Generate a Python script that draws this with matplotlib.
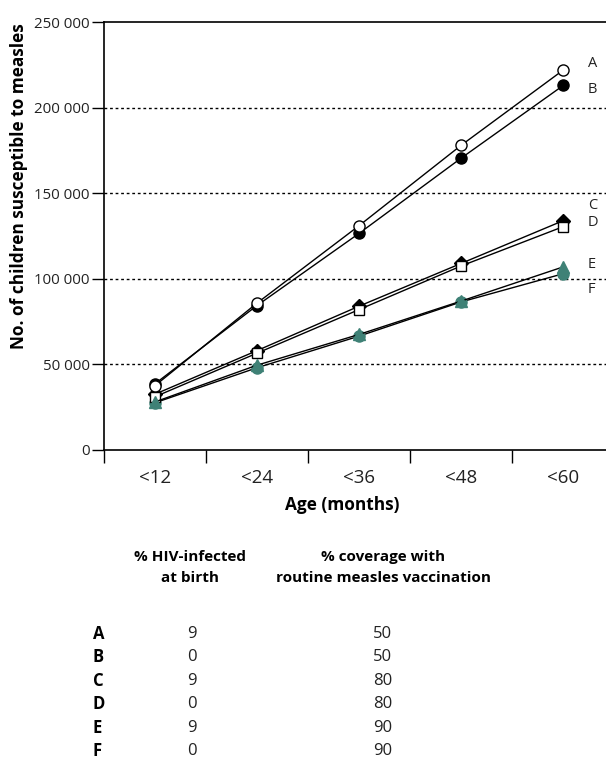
import matplotlib
matplotlib.use("Agg")
import matplotlib.pyplot as plt
import numpy as np

# ---------------- data ----------------
age_groups = ["<12", "<24", "<36", "<48", "<60"]
series_A = [37400, 85700, 131000, 178000, 222000]
series_B = [38500, 84300, 126500, 170500, 213000]
series_C = [32500, 58000, 84000, 109000, 134000]
series_D = [31000, 56500, 82000, 107500, 130500]
series_E = [28000, 49500, 67500, 87000, 107000]
series_F = [27500, 48000, 66500, 86500, 103000]
series_names = ["A", "B", "C", "D", "E", "F"]
hiv_infected = ["9", "0", "9", "0", "9", "0"]
coverage = ["50", "50", "80", "80", "90", "90"]
y_ticks = [0, 50000, 100000, 150000, 200000, 250000]
y_tick_labels = ["0", "50 000", "100 000", "150 000", "200 000", "250 000"]

# ---------------- fonts ----------------
plt.rcParams["font.family"] = ["Open Sans", "DejaVu Sans"]
TXT = "#222222"

W, H = 606, 760
fig = plt.figure(figsize=(W / 100, H / 100), dpi=100)

def fx(px):
    return px / W

def fy(py):
    return 1 - py / H

# axes: x from category boundary 0 at px 103.5, 102.2 px per category
left_px, right_px = 103.5, 103.5 + 5 * 102.2
top_px, bot_px = 22.0, 450.0
ax = fig.add_axes([fx(left_px), fy(bot_px), (right_px - left_px) / W, (bot_px - top_px) / H])

xpos = np.arange(len(age_groups)) + 0.5
teal = "#3f8176"

styles = [
    (series_A, dict(marker="o", mfc="white", mec="black", ms=8)),
    (series_B, dict(marker="o", mfc="black", mec="black", ms=8)),
    (series_C, dict(marker="D", mfc="black", mec="black", ms=7.5)),
    (series_D, dict(marker="s", mfc="white", mec="black", ms=7)),
    (series_E, dict(marker="^", mfc=teal, mec=teal, ms=8.5)),
    (series_F, dict(marker="o", mfc=teal, mec=teal, ms=8)),
]
zorders = [5, 4, 4, 5, 5, 4]
for (vals, st), z in zip(styles, zorders):
    ax.plot(xpos, vals, color="black", lw=1.0, mew=1.0, zorder=z, clip_on=False, **st)

ax.set_xlim(0, 5)
ax.set_ylim(0, 250000)

# grid
for yv in y_ticks[1:-1]:
    ax.axhline(yv, color="black", lw=1.0, ls=(0, (2, 2)), zorder=1)

ax.spines["right"].set_visible(False)
for s in ["left", "bottom", "top"]:
    ax.spines[s].set_linewidth(1.2)

ax.set_yticks(y_ticks)
ax.set_yticklabels(y_tick_labels)
ax.tick_params(axis="y", direction="out", length=9, width=1, pad=1,
               labelsize=10.8, labelcolor=TXT)

ax.set_xticks(np.arange(0, 6))
ax.set_xticklabels([])
ax.set_xticks(xpos, minor=True)
ax.set_xticklabels(age_groups, minor=True)
ax.tick_params(axis="x", which="major", direction="out", length=9, width=1)
ax.tick_params(axis="x", which="minor", length=0, pad=14, labelsize=13.5, labelcolor=TXT)

# series labels at right
label_y = [series_A[-1] + 4000, series_B[-1] - 2500, series_C[-1] + 9000,
           series_D[-1] + 2500, series_E[-1] + 1500, series_F[-1] - 9500]
for name, yv in zip(series_names, label_y):
    ax.text(4.74, yv, name, fontsize=10.5, color=TXT, ha="left", va="center",
            clip_on=False)

# axis labels
fig.text(fx(19), fy(186), "No. of children susceptible to measles", rotation=90,
         ha="center", va="center", fontsize=12.4, fontweight="bold", color="black")
fig.text(fx(342), fy(505), "Age (months)", ha="center", va="center",
         fontsize=12.4, fontweight="bold", color="black")

# legend table
fig.text(fx(190), fy(557), "% HIV-infected", ha="center", va="center",
         fontsize=11, fontweight="bold")
fig.text(fx(190), fy(578), "at birth", ha="center", va="center",
         fontsize=11, fontweight="bold")
fig.text(fx(383), fy(557), "% coverage with", ha="center", va="center",
         fontsize=11, fontweight="bold")
fig.text(fx(383), fy(578), "routine measles vaccination", ha="center", va="center",
         fontsize=11, fontweight="bold")

row_y0, row_dy = 634, 23.4
for i, (nm, h, c) in enumerate(zip(series_names, hiv_infected, coverage)):
    yy = fy(row_y0 + i * row_dy)
    fig.text(fx(93), yy, nm, ha="left", va="center", fontsize=12, fontweight="bold")
    fig.text(fx(192), yy, h, ha="center", va="center", fontsize=12, color=TXT)
    fig.text(fx(383), yy, c, ha="center", va="center", fontsize=12, color=TXT)

fig.savefig("out.png", dpi=100)
